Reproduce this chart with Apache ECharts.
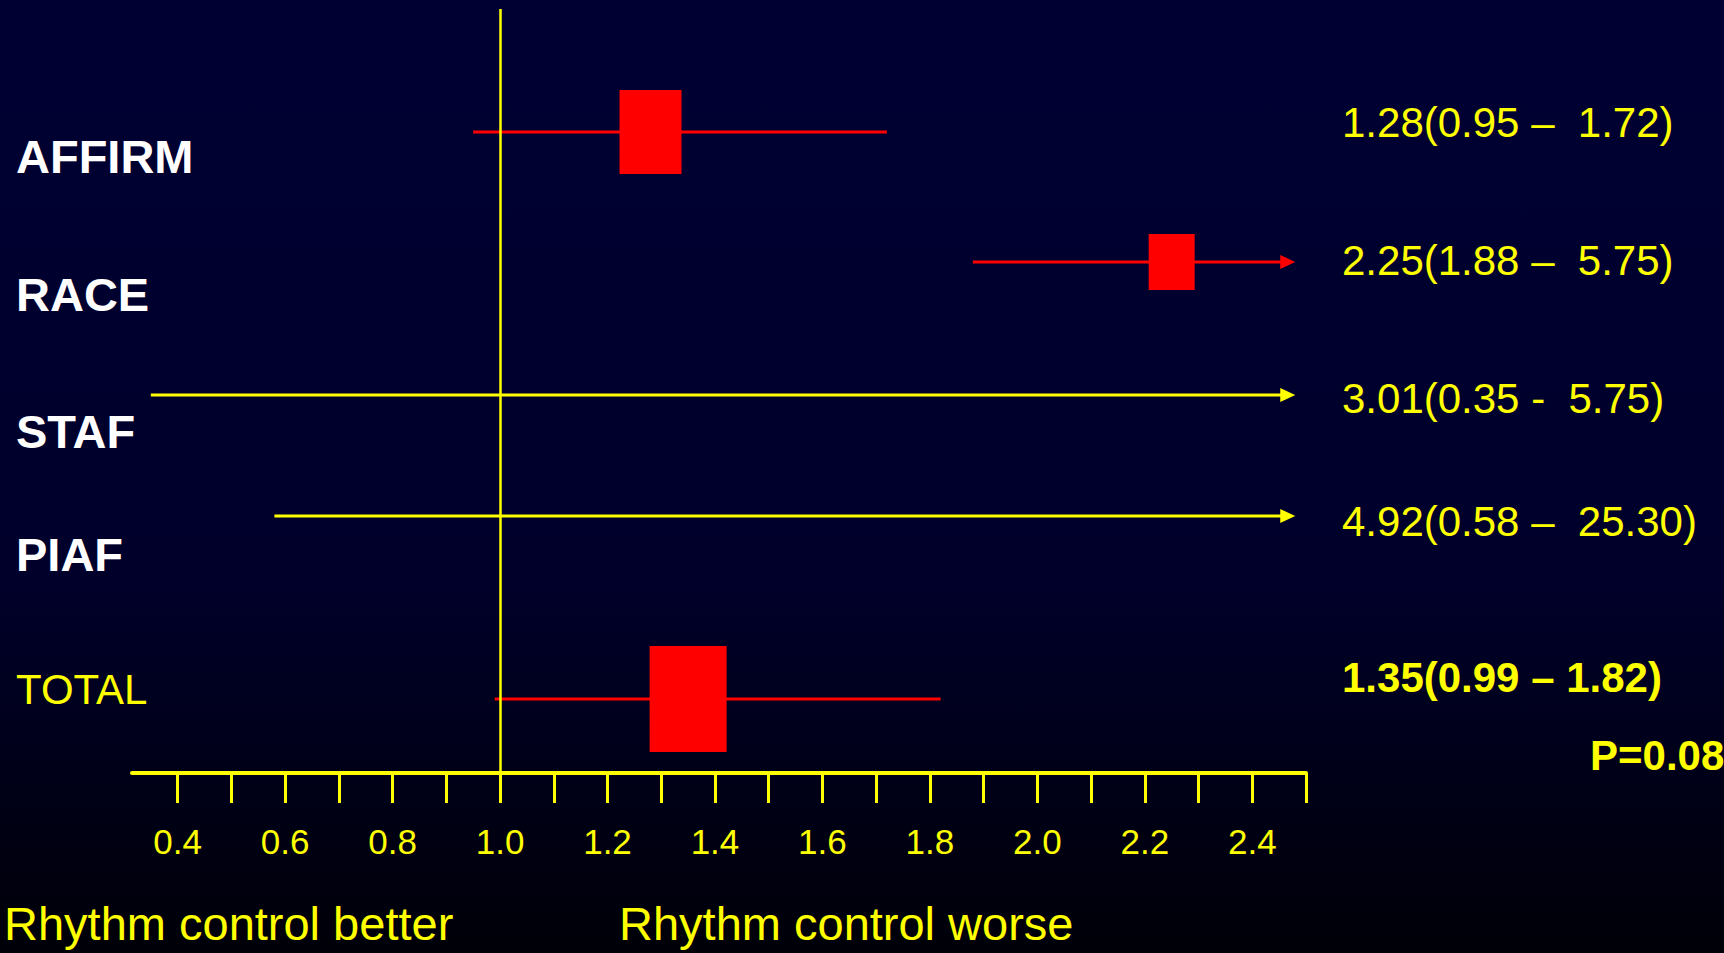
<!DOCTYPE html>
<html>
<head>
<meta charset="utf-8">
<script src="https://cdn.jsdelivr.net/npm/echarts@6/dist/echarts.min.js"></script>
<style>
  html, body { margin: 0; padding: 0; background: #00001a; }
  #chart { width: 1724px; height: 953px; }
</style>
</head>
<body>
<div id="chart"></div>
<script>
// Trials pooled in the forest plot, top to bottom
const studies = ['AFFIRM', 'RACE', 'STAF', 'PIAF', 'TOTAL'];
// Odds ratio with 95% confidence interval for each trial
const oddsRatio = [1.28, 2.25, 3.01, 4.92, 1.35];
const ciLower   = [0.95, 1.88, 0.35, 0.58, 0.99];
const ciUpper   = [1.72, 5.75, 5.75, 25.30, 1.82];
const pValue = '0.08';

// Horizontal scale: minor ticks and labelled ticks
const tickValues  = [0.4, 0.5, 0.6, 0.7, 0.8, 0.9, 1.0, 1.1, 1.2, 1.3, 1.4, 1.5, 1.6, 1.7, 1.8, 1.9, 2.0, 2.1, 2.2, 2.3, 2.4, 2.5];
const labelValues = [0.4, 0.6, 0.8, 1.0, 1.2, 1.4, 1.6, 1.8, 2.0, 2.2, 2.4];

// ---- layout and styling ----
const X_MIN = 0.315, X_MAX = 2.5;
const ARROW_AT = 2.48;          // intervals running past the scale end in an arrow here
const Y_MAX = 5.832;            // hidden vertical scale, in row units
const rowPos = [0.939, 1.931, 2.947, 3.870, 5.267];
const FONT = '"Liberation Sans", Arial, Helvetica, sans-serif';
const RED = '#ff0000', YELLOW = '#ffff00', WHITE = '#ffffff';

const rowStyle = [
  { line: RED,    boxW: 62, boxH: 84,  nameColor: WHITE,  nameBold: true,  nameSize: 47, nameDy: 24,   noteDy: -10, noteBold: false, sep: ' \u2013  ' },
  { line: RED,    boxW: 46, boxH: 56,  nameColor: WHITE,  nameBold: true,  nameSize: 47, nameDy: 32.5, noteDy: -1,  noteBold: false, sep: ' \u2013  ' },
  { line: YELLOW, boxW: 46, boxH: 56,  nameColor: WHITE,  nameBold: true,  nameSize: 47, nameDy: 36.5, noteDy: 3,   noteBold: false, sep: ' -  ' },
  { line: YELLOW, boxW: 46, boxH: 56,  nameColor: WHITE,  nameBold: true,  nameSize: 47, nameDy: 39,   noteDy: 6,   noteBold: false, sep: ' \u2013  ' },
  { line: RED,    boxW: 77, boxH: 106, nameColor: YELLOW, nameBold: false, nameSize: 42, nameDy: -9,   noteDy: -21, noteBold: true,  sep: ' \u2013 ' }
];

const NAME_X = 16, NOTE_X = 1342;

function renderRow(params, api) {
  const i = api.value(0);
  const or = api.value(1), lo = api.value(2), hi = api.value(3);
  const st = rowStyle[i];
  const y = api.coord([1, rowPos[i]])[1];
  const xLo = api.coord([Math.max(lo, X_MIN), rowPos[i]])[0];
  const runsOff = hi > ARROW_AT;
  const xHi = api.coord([Math.min(hi, ARROW_AT), rowPos[i]])[0];
  const head = 15;
  const children = [];

  children.push({
    type: 'line',
    shape: { x1: xLo, y1: y, x2: runsOff ? xHi - head + 1 : xHi, y2: y },
    style: { stroke: st.line, lineWidth: 3 }
  });
  if (runsOff) {
    children.push({
      type: 'polygon',
      shape: { points: [[xHi, y], [xHi - head, y - 7], [xHi - head, y + 7]] },
      style: { fill: st.line }
    });
  }
  if (or <= X_MAX) {
    const xc = api.coord([or, rowPos[i]])[0];
    children.push({
      type: 'rect',
      shape: { x: xc - st.boxW / 2, y: y - st.boxH / 2, width: st.boxW, height: st.boxH },
      style: { fill: RED }
    });
  }
  children.push({
    type: 'text', x: NAME_X, y: y + st.nameDy,
    style: {
      text: studies[i], fill: st.nameColor, fontFamily: FONT,
      fontSize: st.nameSize, fontWeight: st.nameBold ? 'bold' : 'normal',
      align: 'left', verticalAlign: 'middle'
    }
  });
  children.push({
    type: 'text', x: NOTE_X, y: y + st.noteDy,
    style: {
      text: or.toFixed(2) + '(' + lo.toFixed(2) + st.sep + hi.toFixed(2) + ')',
      fill: YELLOW, fontFamily: FONT, fontSize: 42,
      fontWeight: st.noteBold ? 'bold' : 'normal',
      align: 'left', verticalAlign: 'middle'
    }
  });
  return { type: 'group', children: children };
}

const chart = echarts.init(document.getElementById('chart'), null, { renderer: 'svg', width: 1724, height: 953 });

chart.setOption({
  animation: false,
  backgroundColor: {
    type: 'linear', x: 0, y: 0, x2: 0, y2: 1,
    colorStops: [
      { offset: 0, color: '#000033' },
      { offset: 0.6, color: '#00002b' },
      { offset: 1, color: '#000008' }
    ]
  },
  grid: { left: 132, right: 418, top: 9, bottom: 180, containLabel: false },
  xAxis: {
    type: 'value', min: X_MIN, max: X_MAX, position: 'bottom',
    axisLine: { show: true, onZero: false, lineStyle: { color: YELLOW, width: 4 } },
    axisTick: { show: true, customValues: tickValues, length: 30, lineStyle: { color: YELLOW, width: 3 } },
    axisLabel: {
      show: true, customValues: labelValues,
      formatter: function (v) { return Number(v).toFixed(1); },
      color: YELLOW, fontSize: 35, fontFamily: FONT, margin: 51
    },
    splitLine: { show: false }
  },
  yAxis: { type: 'value', min: 0, max: Y_MAX, inverse: true, show: false },
  graphic: [
    { type: 'text', left: 1590, top: 755 - 21,
      style: { text: 'P=' + pValue, fill: YELLOW, fontFamily: FONT, fontSize: 42, fontWeight: 'bold' } },
    { type: 'text', x: 4, y: 923,
      style: { text: 'Rhythm control better', fill: YELLOW, fontFamily: FONT, fontSize: 47, align: 'left', verticalAlign: 'middle' } },
    { type: 'text', x: 619, y: 923,
      style: { text: 'Rhythm control worse', fill: YELLOW, fontFamily: FONT, fontSize: 47, align: 'left', verticalAlign: 'middle' } }
  ],
  series: [
    {
      // null-effect reference line at an odds ratio of 1
      type: 'scatter', data: [], silent: true,
      markLine: {
        silent: true, symbol: 'none', animation: false,
        label: { show: false },
        lineStyle: { color: YELLOW, width: 2.5, type: 'solid' },
        data: [{ xAxis: 1.0 }]
      }
    },
    {
      type: 'custom', silent: true, clip: false,
      renderItem: renderRow,
      encode: { x: [1, 2, 3], y: 0 },
      data: studies.map(function (s, i) { return [i, oddsRatio[i], ciLower[i], ciUpper[i]]; })
    }
  ]
});
</script>
</body>
</html>
